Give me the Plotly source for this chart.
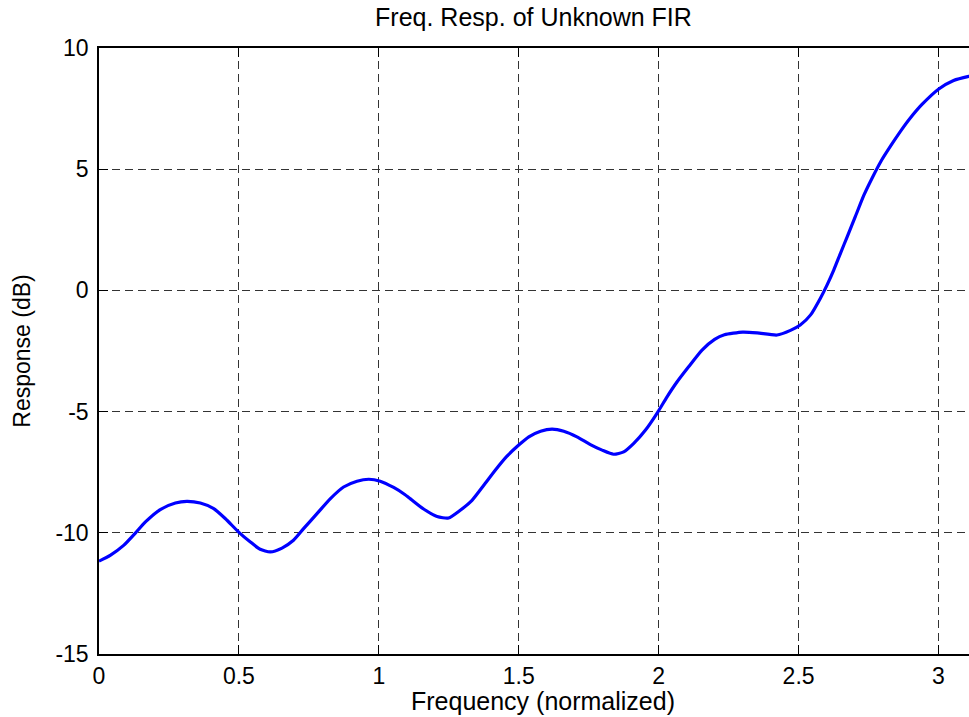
import math
import plotly.graph_objects as go

# Magnitude response of the unknown FIR filter, sampled along normalized frequency
freq = [0.000, 0.040, 0.088, 0.130, 0.166, 0.219, 0.273, 0.314, 0.362, 0.410,
        0.451, 0.500, 0.541, 0.576, 0.612, 0.654, 0.695, 0.731, 0.779, 0.827,
        0.874, 0.922, 0.964, 1.005, 1.053, 1.090, 1.113, 1.160, 1.208, 1.249,
        1.291, 1.333, 1.375, 1.416, 1.458, 1.500, 1.536, 1.578, 1.619, 1.661,
        1.708, 1.756, 1.798, 1.839, 1.875, 1.911, 1.953, 1.994, 2.030, 2.066,
        2.107, 2.155, 2.200, 2.235, 2.300, 2.352, 2.423, 2.471, 2.506, 2.543,
        2.578, 2.602, 2.626, 2.650, 2.674, 2.703, 2.733, 2.763, 2.793, 2.829,
        2.864, 2.900, 2.941, 3.001, 3.054, 3.108, math.pi]
resp_db = [-11.17, -10.93, -10.52, -10.01, -9.55, -9.04, -8.77, -8.70, -8.77, -9.00,
           -9.41, -9.98, -10.38, -10.68, -10.79, -10.63, -10.31, -9.83, -9.21, -8.59,
           -8.11, -7.87, -7.79, -7.87, -8.13, -8.40, -8.60, -9.02, -9.33, -9.39,
           -9.07, -8.66, -8.04, -7.42, -6.84, -6.38, -6.04, -5.81, -5.72, -5.81,
           -6.04, -6.36, -6.59, -6.76, -6.66, -6.31, -5.76, -5.07, -4.39, -3.77,
           -3.15, -2.46, -2.02, -1.83, -1.72, -1.75, -1.84, -1.65, -1.43, -1.01,
           -0.32, 0.23, 0.85, 1.54, 2.22, 3.05, 3.92, 4.64, 5.30, 5.96,
           6.56, 7.12, 7.67, 8.31, 8.66, 8.83, 8.90]

x_ticks = [0, 0.5, 1, 1.5, 2, 2.5, 3]
x_tick_text = ["0", "0.5", "1", "1.5", "2", "2.5", "3"]
y_ticks = [-15, -10, -5, 0, 5, 10]
y_tick_text = ["-15", "-10", "-5", "0", "5", "10"]

FONT = "Liberation Sans, Arial, Helvetica, sans-serif"

fig = go.Figure()
fig.add_trace(go.Scatter(
    x=freq, y=resp_db, mode="lines",
    line=dict(color="#0000FF", width=3.2, shape="spline", smoothing=0.6),
    hoverinfo="skip", showlegend=False,
))

axis_common = dict(
    showline=True, linecolor="black", linewidth=1.5,
    ticks="inside", ticklen=9, tickcolor="black", tickwidth=1,
    showgrid=True, gridcolor="#333333", gridwidth=1, griddash="8px,5px",
    zeroline=False,
    tickfont=dict(family=FONT, size=23, color="black"),
)

fig.update_layout(
    width=969, height=717,
    margin=dict(l=99, r=0, t=48, b=63),
    paper_bgcolor="white", plot_bgcolor="white",
    title=dict(
        text="Freq. Resp. of Unknown FIR",
        font=dict(family=FONT, size=25, color="black"),
        x=0.4994, xref="paper", xanchor="center",
        y=1, yref="container", yanchor="top", pad=dict(t=8),
    ),
    xaxis=dict(
        range=[0, 3.109], tickvals=x_ticks, ticktext=x_tick_text,
        mirror="ticks", ticklabelstandoff=1,
        **axis_common,
    ),
    yaxis=dict(
        range=[-15, 10], tickvals=y_ticks, ticktext=y_tick_text,
        mirror=False, ticklabelstandoff=4,
        title=dict(text="Response (dB)",
                   font=dict(family=FONT, size=23, color="black"), standoff=18),
        **axis_common,
    ),
    annotations=[dict(
        text="Frequency (normalized)", showarrow=False,
        xref="paper", yref="paper", x=0.5098, y=-0.0776,
        xanchor="center", yanchor="middle",
        font=dict(family=FONT, size=25, color="black"),
    )],
)

fig.write_html("out.html")
